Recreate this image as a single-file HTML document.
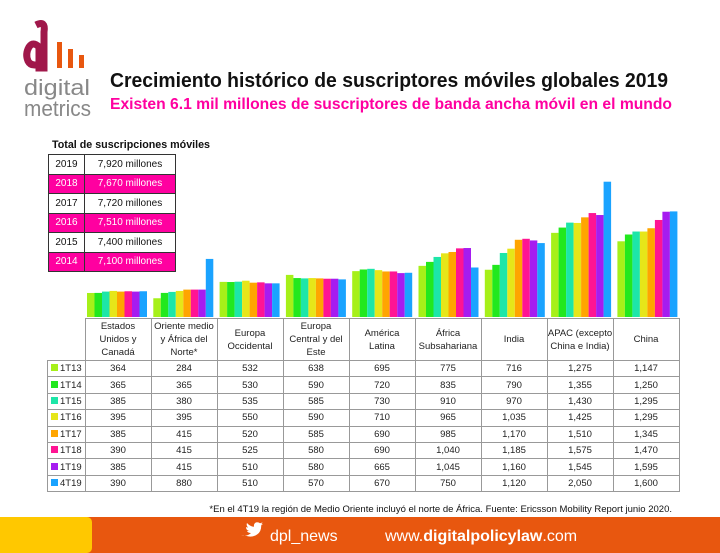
<!DOCTYPE html><html><head><meta charset="utf-8"><style>
body{margin:0;width:720px;height:553px;background:#fff;position:relative;overflow:hidden;font-family:"Liberation Sans",sans-serif}
.a{position:absolute}
table{border-collapse:collapse}
</style></head><body>
<svg class="a" style="left:0;top:0" width="720" height="553">
<path d="M36 25 Q46 20 44 32 L44 68 L39 68 L39 47 Q33 41 29 47 Q25 54 28 61 Q31 67 40 64" fill="none" stroke="#a0174a" stroke-width="7"/>
<rect x="57" y="42" width="5" height="26" fill="#e8570f"/><rect x="68" y="49" width="5" height="19" fill="#e8570f"/><rect x="79" y="55" width="5" height="13" fill="#e8570f"/>
<text x="24" y="95" font-size="22" fill="#888" textLength="66" lengthAdjust="spacingAndGlyphs">digital</text>
<text x="24" y="116" font-size="22" fill="#888" textLength="67" lengthAdjust="spacingAndGlyphs">metrics</text>
<text x="110" y="87" font-size="20" font-weight="bold" fill="#111" textLength="558" lengthAdjust="spacingAndGlyphs">Crecimiento histórico de suscriptores móviles globales 2019</text>
<text x="110" y="109" font-size="16" font-weight="bold" fill="#ff00a0" textLength="562" lengthAdjust="spacingAndGlyphs">Existen 6.1 mil millones de suscriptores de banda ancha móvil en el mundo</text>
<text x="52" y="148" font-size="11" font-weight="bold" fill="#111" textLength="158" lengthAdjust="spacingAndGlyphs">Total de suscripciones móviles</text>
<g id="bars"></g>
<rect x="0" y="517" width="720" height="36" fill="#e8570f"/>
<rect x="-6" y="517" width="98" height="36" rx="5" fill="#ffc800"/>
<text x="672" y="512" font-size="9.5" text-anchor="end" fill="#111">*En el 4T19 la región de Medio Oriente incluyó el norte de África. Fuente: Ericsson Mobility Report junio 2020.</text>
<path d="M241 535 q6 2 10 -2 q-3 0 -4 -2 q1 0 2 0 q-3 -1 -3 -4 q1 0.5 2 0.5 q-2 -2 -1 -4.5 q3 3.5 7 3.8 q-0.5 -4 3 -4.5 q2 0 3 1 q1.5 -0.3 2.5 -1 q-0.5 1.5 -1.5 2 q1 0 2 -0.5 q-0.7 1 -1.8 1.6 q0.2 6 -4 9 q-5 3.5 -11 1.5z" fill="#fff"/>
<text x="270" y="541" font-size="16" fill="#fff">dpl_news</text>
<text x="385" y="541" font-size="16" fill="#fff">www.<tspan font-weight="bold">digitalpolicylaw</tspan>.com</text>
</svg>
<table class="a" style="left:48px;top:154px;font-size:10px">
<tbody id="t1"></tbody></table>
<table class="a" style="left:47px;top:318px;font-size:9.5px;color:#222">
<tbody id="t2"></tbody></table>
<script>
var t1=[["2019","7,920"],["2018","7,670"],["2017","7,720"],["2016","7,510"],["2015","7,400"],["2014","7,100"]],h="";
t1.forEach(function(r,i){var p=i%2==1;var s='style="border:1px solid #333;height:18.5px;padding:0;text-align:center;'+(p?'background:#ff00a0;color:#fff;':'background:#fff;color:#111;')+'"';h+='<tr><td '+s.replace('padding:0','padding:0;width:35px')+'>'+r[0]+'</td><td '+s.replace('padding:0','padding:0;width:90px')+'>'+r[1]+' millones</td></tr>'});
document.getElementById('t1').innerHTML=h;
var reg=["Estados<br>Unidos y<br>Canadá","Oriente medio<br>y África del<br>Norte*","Europa<br>Occidental","Europa<br>Central y del<br>Este","América<br>Latina","África<br>Subsahariana","India","APAC (excepto<br>China e India)","China"];
var ser=["1T13","1T14","1T15","1T16","1T17","1T18","1T19","4T19"];
var col=["#a6f019","#22e81e","#1de6a8","#e6e619","#ffa500","#ff1493","#a61cf0","#1aa3ff"];
var d=[[364,284,532,638,695,775,716,1275,1147],[365,365,530,590,720,835,790,1355,1250],[385,380,535,585,730,910,970,1430,1295],[395,395,550,590,710,965,1035,1425,1295],[385,415,520,585,690,985,1170,1510,1345],[390,415,525,580,690,1040,1185,1575,1470],[385,415,510,580,665,1045,1160,1545,1595],[390,880,510,570,670,750,1120,2050,1600]];
var b="";for(var r=0;r<9;r++)for(var s=0;s<8;s++){var v=d[s][r],hh=v*0.066;b+='<rect x="'+(87+r*66.3+s*7.5)+'" y="'+(317-hh)+'" width="7.5" height="'+hh+'" fill="'+col[s]+'"/>';}
document.getElementById('bars').innerHTML=b;
var c='border:1px solid #999;padding:0;text-align:center;';
h='<tr><td style="width:35px;border:none"></td>';reg.forEach(function(x){h+='<td style="'+c+'width:65px;height:41px;line-height:13px;font-size:9.5px">'+x+'</td>'});h+='</tr>';
ser.forEach(function(x,i){h+='<tr><td style="'+c+'height:15.4px;text-align:left;padding-left:3px"><span style="display:inline-block;width:7px;height:7px;background:'+col[i]+';margin-right:2px"></span>'+x+'</td>';d[i].forEach(function(v){h+='<td style="'+c+'">'+v.toLocaleString('en-US')+'</td>'});h+='</tr>'});
document.getElementById('t2').innerHTML=h;
</script>
</body></html>
